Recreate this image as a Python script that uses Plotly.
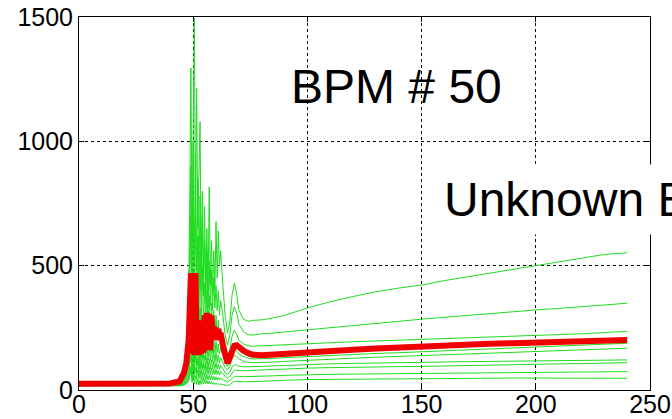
import plotly.graph_objects as go

# sample positions (shared by all traces)
x_vals = [0, 10, 20, 30, 40, 44, 46, 47,
          48, 48.5, 49, 49.5, 50, 50.5, 51, 51.5, 52, 52.5, 53, 53.5, 54, 54.5,
          55, 55.5, 56, 56.5, 57, 57.5, 58, 58.5, 59, 59.5, 60, 60.5, 61, 61.5, 62,
          63, 64, 65, 66, 67, 68, 69, 70, 72, 74, 76,
          80, 85, 90, 100, 110, 120, 130, 140, 150, 160, 170, 180, 190, 200, 210, 220, 230, 240]

green_1 = [18, 18, 18, 19, 20, 25, 60, 150,
           400, 777, 1295, 600, 1100, 1496, 700, 1214, 650, 893, 1079, 500, 800, 450,
           737, 400, 650, 380, 817, 420, 600, 380, 560, 400, 677, 450, 640, 500, 560,
           420, 300, 230, 270, 380, 429, 390, 320, 285, 276, 280,
           282, 290, 300, 330, 355, 376, 395, 410, 422, 440, 456, 470, 485, 500, 514, 528, 545, 552]
green_2 = [18, 18, 18, 18, 19, 24, 50, 110,
           300, 550, 900, 450, 1000, 500, 950, 480, 850, 420, 780, 400, 700, 380,
           600, 350, 560, 330, 520, 340, 480, 320, 450, 330, 420, 320, 400, 300, 360,
           300, 220, 180, 220, 300, 335, 310, 265, 235, 222, 221,
           226, 229, 233, 241, 250, 260, 268, 276, 285, 293, 300, 307, 314, 322, 328, 335, 342, 349]
green_3 = [18, 18, 18, 18, 19, 22, 40, 80,
           200, 400, 700, 300, 780, 350, 700, 320, 620, 300, 560, 280, 500, 260,
           430, 250, 400, 240, 380, 230, 350, 220, 320, 220, 300, 210, 280, 200, 250,
           200, 150, 130, 160, 215, 240, 225, 200, 185, 178, 176,
           178, 180, 182, 186, 190, 194, 197, 200, 203, 206, 209, 212, 215, 218, 222, 226, 231, 236]
green_4 = [18, 18, 18, 18, 19, 22, 35, 60,
           130, 260, 420, 200, 480, 220, 430, 200, 380, 190, 330, 180, 300, 170,
           270, 165, 250, 160, 240, 155, 220, 150, 205, 150, 195, 150, 185, 145, 170,
           140, 110, 95, 115, 150, 165, 158, 145, 135, 128, 125,
           125, 127, 130, 135, 139, 143, 147, 150, 154, 158, 162, 165, 168, 172, 176, 180, 184, 188]
green_5 = [18, 18, 18, 18, 19, 21, 30, 50,
           100, 200, 300, 150, 340, 160, 300, 150, 270, 140, 240, 130, 220, 125,
           200, 120, 190, 120, 180, 118, 170, 115, 160, 112, 150, 110, 140, 108, 130,
           110, 90, 80, 95, 125, 140, 135, 125, 116, 111, 110,
           110, 112, 115, 120, 124, 128, 132, 135, 138, 142, 145, 148, 151, 155, 158, 161, 165, 168]
green_6 = [18, 18, 18, 18, 19, 20, 26, 40,
           70, 130, 200, 100, 230, 110, 200, 100, 180, 95, 160, 90, 150, 88,
           140, 85, 130, 85, 125, 85, 120, 85, 115, 85, 110, 84, 105, 82, 98,
           85, 70, 62, 72, 92, 102, 100, 96, 93, 93, 94,
           95, 97, 99, 103, 105, 107, 109, 111, 112, 113, 114, 115, 116, 117, 118, 119, 120, 121]
green_7 = [17, 17, 17, 18, 18, 19, 24, 32,
           55, 95, 140, 70, 160, 75, 140, 70, 125, 68, 115, 65, 105, 63,
           100, 62, 95, 62, 90, 62, 88, 62, 85, 62, 82, 62, 78, 60, 74,
           65, 55, 48, 55, 70, 80, 80, 78, 77, 78, 79,
           80, 83, 85, 88, 90, 92, 93, 94, 95, 97, 98, 100, 101, 103, 105, 106, 108, 110]
green_8 = [17, 17, 17, 17, 18, 18, 22, 28,
           40, 65, 95, 45, 105, 50, 90, 45, 80, 45, 75, 42, 70, 40,
           66, 40, 62, 40, 60, 40, 58, 40, 55, 40, 53, 40, 50, 40, 48,
           42, 36, 32, 38, 48, 54, 55, 54, 54, 54, 55,
           55, 57, 59, 62, 63, 64, 65, 66, 67, 68, 69, 70, 70, 71, 72, 73, 73, 74]
green_9 = [16, 16, 16, 17, 17, 17, 20, 25,
           35, 55, 80, 30, 60, 25, 55, 22, 45, 20, 40, 22, 45, 25,
           42, 25, 38, 24, 36, 24, 33, 23, 30, 22, 28, 22, 26, 22, 24,
           22, 20, 18, 22, 30, 35, 35, 34, 33, 33, 34,
           35, 37, 39, 42, 43, 44, 45, 45, 46, 46, 47, 47, 48, 48, 48, 47, 47, 47]
red_mean = [25, 25, 24, 25, 26, 35, 70, 110,
            200, 330, 470, 145, 465, 140, 470, 150, 280, 140, 280, 145, 275, 150,
            300, 160, 310, 165, 305, 160, 300, 205, 255, 205, 250, 200, 245, 200, 230,
            180, 130, 108, 130, 165, 178, 180, 170, 158, 148, 142,
            140, 142, 145, 150, 156, 162, 167, 172, 176, 179, 183, 186, 188, 191, 194, 197, 199, 201]

greens = [green_1, green_2, green_3, green_4, green_5, green_6, green_7, green_8, green_9]
for g in greens + [red_mean]:
    assert len(g) == len(x_vals)

x_ticks = [0, 50, 100, 150, 200, 250]
y_ticks = [0, 500, 1000, 1500]

fig = go.Figure()
for g in greens:
    fig.add_trace(go.Scatter(x=x_vals, y=g, mode="lines",
                             line=dict(color="#1fdc1f", width=1)))
fig.add_trace(go.Scatter(x=x_vals, y=red_mean, mode="lines",
                         line=dict(color="#f00000", width=6)))

axis_style = dict(showline=True, linecolor="black", linewidth=1, mirror="ticks",
                  ticks="inside", ticklen=5, tickcolor="black",
                  showgrid=True, gridcolor="black", griddash="dot", gridwidth=1,
                  zeroline=False, automargin=False,
                  tickfont=dict(family="Liberation Sans, Arial", size=25, color="black"))

fig.update_xaxes(range=[0, 250], tickvals=x_ticks, ticklabelstandoff=-8, **axis_style)
fig.update_yaxes(range=[0, 1500], tickvals=y_ticks, **axis_style)

fig.add_annotation(x=92, y=1222, xref="x", yref="y", text="BPM # 50",
                   showarrow=False, xanchor="left", yanchor="middle",
                   font=dict(family="Liberation Sans, Arial", size=48, color="black"))
fig.add_annotation(x=156, y=768, xref="x", yref="y", text="Unknown BPM",
                   showarrow=False, xanchor="left", yanchor="middle",
                   bgcolor="white", borderpad=8,
                   font=dict(family="Liberation Sans, Arial", size=48, color="black"))

fig.update_layout(width=672, height=419, showlegend=False,
                  plot_bgcolor="white", paper_bgcolor="white",
                  margin=dict(l=79, r=22, t=17, b=29))

# drop the default 8px body margin so the figure fills the window exactly
fig.write_html("out.html", config={"displayModeBar": False},
               post_script="document.body.style.margin='0px';")
